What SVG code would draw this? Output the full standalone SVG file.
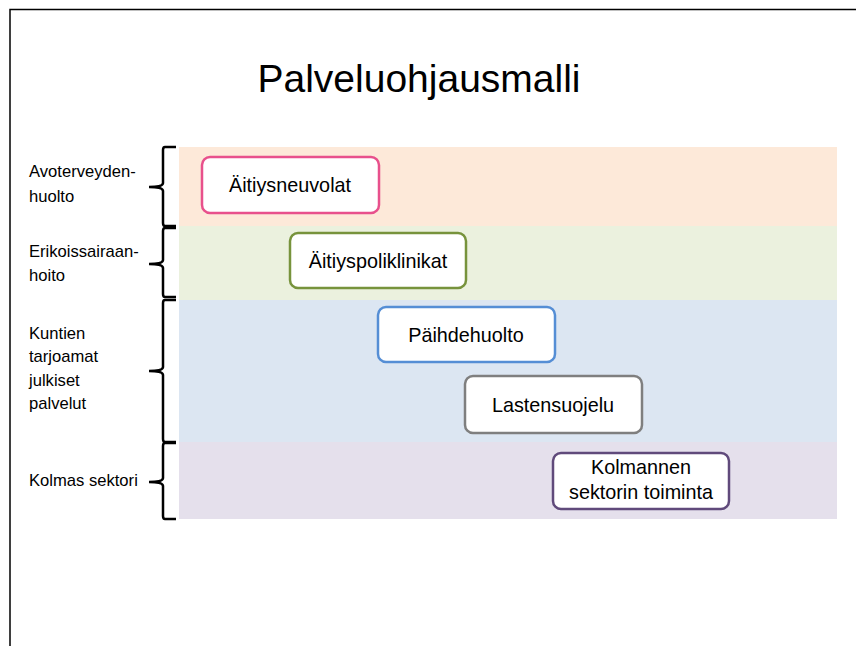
<svg xmlns="http://www.w3.org/2000/svg" width="856" height="646" viewBox="0 0 856 646">
<style>
.lbl{font-family:"Liberation Sans",Arial,sans-serif;font-size:16.6px;fill:#000}
.nt{font-family:"Liberation Sans",Arial,sans-serif;font-size:19.8px;fill:#000;text-anchor:middle}
.box{fill:#fff;stroke-width:2.5}
.brace{fill:none;stroke:#000;stroke-width:2.5}
</style>
<rect width="856" height="646" fill="#fff"/>
<path d="M10,646 V9.5 H856" fill="none" stroke="#000" stroke-width="1.5"/>
<text x="419" y="92" font-family="Liberation Sans,Arial,sans-serif" font-size="39" text-anchor="middle">Palveluohjausmalli</text>
<g id="bands">
<rect x="179" y="147" width="658" height="79" fill="#FDE9D9"/>
<rect x="179" y="226" width="658" height="74" fill="#EBF1DE"/>
<rect x="179" y="300" width="658" height="142" fill="#DCE6F2"/>
<rect x="179" y="442" width="658" height="77" fill="#E5E0EC"/>
</g>
<g id="braces">
<path class="brace" d="M176,147 H165 Q163,147 163,150 V183 Q163,187 149,187 Q163,187 163,191 V223 Q163,226 165,226 H176"/>
<path class="brace" d="M176,228 H165 Q163,228 163,231 V260 Q163,264 149,264 Q163,264 163,268 V294 Q163,297 165,297 H176"/>
<path class="brace" d="M176,300 H165 Q163,300 163,303 V367 Q163,371 149,371 Q163,371 163,375 V439 Q163,442 165,442 H176"/>
<path class="brace" d="M176,443 H165 Q163,443 163,446 V478 Q163,482 149,482 Q163,482 163,486 V516 Q163,519 165,519 H176"/>
</g>
<g id="labels">
<text class="lbl" x="29" y="177">Avoterveyden-</text>
<text class="lbl" x="29" y="202">huolto</text>
<text class="lbl" x="29" y="257">Erikoissairaan-</text>
<text class="lbl" x="29" y="281">hoito</text>
<text class="lbl" x="29" y="339">Kuntien</text>
<text class="lbl" x="29" y="362">tarjoamat</text>
<text class="lbl" x="29" y="386">julkiset</text>
<text class="lbl" x="29" y="409">palvelut</text>
<text class="lbl" x="29" y="486">Kolmas sektori</text>
</g>
<g id="n1"><rect class="box" x="202" y="157" width="177" height="56" rx="8" stroke="#E8508C"/><text class="nt" x="290" y="192">Äitiysneuvolat</text></g>
<g id="n2"><rect class="box" x="290" y="233" width="176" height="55" rx="8" stroke="#77933C"/><text class="nt" x="378" y="268">Äitiyspoliklinikat</text></g>
<g id="n3"><rect class="box" x="378" y="307" width="177" height="55" rx="8" stroke="#558ED5"/><text class="nt" x="466" y="342">Päihdehuolto</text></g>
<g id="n4"><rect class="box" x="465" y="376" width="177" height="57" rx="8" stroke="#7F7F7F"/><text class="nt" x="553" y="412">Lastensuojelu</text></g>
<g id="n5"><rect class="box" x="553" y="453" width="176" height="56" rx="8" stroke="#604A7B"/><text class="nt" x="641" y="474">Kolmannen</text><text class="nt" x="641" y="499">sektorin toiminta</text></g>
<g id="connectors"/>
</svg>
